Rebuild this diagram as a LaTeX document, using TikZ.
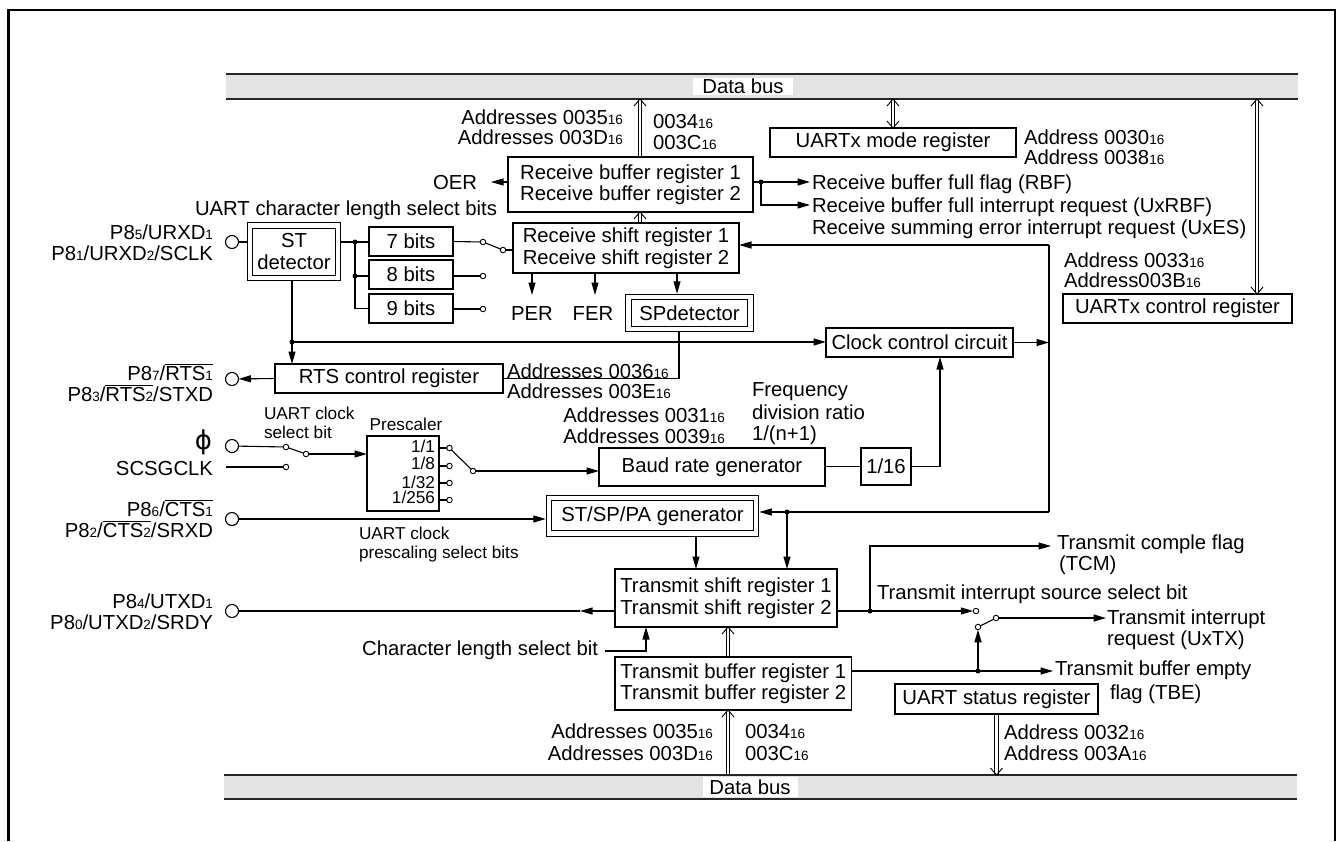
\documentclass[tikz,border=0pt]{standalone}
\usepackage{fontspec}
\setmainfont{Liberation Sans}
\newfontfamily\djv{DejaVu Sans}
\usetikzlibrary{arrows.meta,calc}
\newcommand\mfs{\fontsize{20.3}{21.5}\selectfont}
\newcommand\sfs{\fontsize{17.2}{19}\selectfont}
\newcommand\sbs[1]{\raisebox{-0.7pt}{\fontsize{13.5}{13.5}\selectfont #1}}
\newcommand\ovl[1]{\ensuremath{\overline{\mbox{#1}}}}
\newcommand\dblline[2]{\draw[thl] ($(#1)+(-1.8,0)$) -- ($(#2)+(-1.8,0)$) ($(#1)+(1.8,0)$) -- ($(#2)+(1.8,0)$);}
\newcommand\vhead[2]{\draw[thl] ($(#1)+(-6,#2)$) -- (#1) -- ($(#1)+(6,#2)$);}
\begin{document}
\begin{tikzpicture}[x=1pt,y=-1pt,
 every node/.style={font=\mfs, inner sep=0pt, outer sep=0pt},
 box/.style={draw, line width=1.1pt, fill=white, align=center},
 dblbox/.style={draw, line width=1pt, double, double distance=4.5pt, outer sep=3.25pt, align=center},
 ln/.style={line width=1.1pt},
 thl/.style={line width=0.9pt},
 arr/.style={ln, -{Triangle[length=12.5pt,width=7pt]}},
 pin/.style={draw, circle, line width=1.1pt, minimum size=13pt, fill=white},
 ct/.style={draw, circle, line width=0.9pt, minimum size=5.5pt, fill=white},
 sm/.style={font=\sfs},
 bus/.style={fill=black!11, draw=none},
 busline/.style={line width=1.6pt, black!85},
]
\useasboundingbox (0,0) rectangle (1339,841);
% frame
\draw[line width=2.2pt] (8.5,841) -- (8.5,10) -- (1335,10) -- (1335,841);

% buses
\node[bus, minimum width=1072, minimum height=25, anchor=north west] (busT) at (226,74) {};
\draw[busline] (busT.north west) -- (busT.north east) (busT.south west) -- (busT.south east);
\node[fill=white, minimum width=100, minimum height=17] (dbT) at (743,86.5) {Data bus};
\node[bus, minimum width=1073, minimum height=24, anchor=north west] (busB) at (224,775) {};
\draw[busline] (busB.north west) -- (busB.north east) (busB.south west) -- (busB.south east);
\node[fill=white, minimum width=95, minimum height=20] (dbB) at (750,787) {Data bus};

% boxes
\node[box, minimum width=245, minimum height=55] (rbuf) at (630.5,184.5) {Receive buffer register 1\\Receive buffer register 2};
\node[box, minimum width=226, minimum height=50] (rshift) at (626,248) {Receive shift register 1\\Receive shift register 2};
\node[box, minimum width=246, minimum height=29] (mode) at (893,142.5) {UARTx mode register};
\node[box, minimum width=229, minimum height=29] (ctrl) at (1177.5,308.5) {UARTx control register};
\node[dblbox, minimum width=88, minimum height=52.5] (stdet) at (294,251.75) {ST\\detector};
\node[box, minimum width=84, minimum height=29] (b7) at (411,241.5) {7 bits};
\node[box, minimum width=84, minimum height=29] (b8) at (411,274.5) {8 bits};
\node[box, minimum width=84, minimum height=29] (b9) at (411,308.5) {9 bits};
\node[dblbox, minimum width=122, minimum height=32] (spdet) at (689.5,313) {SPdetector};
\node[box, minimum width=187, minimum height=29] (clk) at (919.5,342.5) {Clock control circuit};
\node[box, minimum width=228, minimum height=29] (rts) at (389,378.5) {RTS control register};
\node[box, minimum width=72, minimum height=75] (pre) at (403,473.5) {};
\node[box, minimum width=226, minimum height=38] (baud) at (712,467) {Baud rate generator};
\node[box, minimum width=50, minimum height=37] (div) at (886,466.5) {1/16};
\node[dblbox, minimum width=207, minimum height=35.5] (stsp) at (652.5,515.75) {ST/SP/PA generator};
\node[box, minimum width=222, minimum height=58] (tshift) at (726,598) {Transmit shift register 1\\Transmit shift register 2};
\node[box, minimum width=236.5, minimum height=53] (tbuf) at (733.25,683.5) {Transmit buffer register 1\\Transmit buffer register 2};
\node[box, minimum width=203, minimum height=30] (stat) at (996.5,699) {UART status register};

% pins
\node[pin] (p1) at (232,242) {};
\node[pin] (p2) at (232,379) {};
\node[pin] (p3) at (232,446) {};
\node[pin] (p4) at (232,519) {};
\node[pin] (p5) at (232,611) {};

% pin labels
\node[anchor=base east] (lp1a) at (213,239) {P8\sbs{5}/URXD\sbs{1}};
\node[anchor=base east] (lp1b) at (213,260) {P8\sbs{1}/URXD\sbs{2}/SCLK};
\node[anchor=base east] (lp2a) at (213,380) {P8\sbs{7}/\ovl{RTS\sbs{1}}};
\node[anchor=base east] (lp2b) at (213,401) {P8\sbs{3}/\ovl{RTS\sbs{2}}/STXD};
\node (lp3a) at (203.5,442) {\djv\fontsize{26}{26}\selectfont ϕ};
\node[anchor=base east] (lp3b) at (213,475) {SCSGCLK};
\node[anchor=base east] (lp4a) at (213,516) {P8\sbs{6}/\ovl{CTS\sbs{1}}};
\node[anchor=base east] (lp4b) at (213,537) {P8\sbs{2}/\ovl{CTS\sbs{2}}/SRXD};
\node[anchor=base east] (lp5a) at (213,608) {P8\sbs{4}/UTXD\sbs{1}};
\node[anchor=base east] (lp5b) at (213,629) {P8\sbs{0}/UTXD\sbs{2}/SRDY};

% other labels
\node[anchor=base east] (la1) at (623,124) {Addresses 0035\sbs{16}};
\node[anchor=base east] (la2) at (623,144) {Addresses 003D\sbs{16}};
\node[anchor=base west] (la3) at (653,128) {0034\sbs{16}};
\node[anchor=base west] (la4) at (653,149) {003C\sbs{16}};
\node[anchor=base west] (la5) at (1024,144) {Address 0030\sbs{16}};
\node[anchor=base west] (la6) at (1024,164) {Address 0038\sbs{16}};
\node[anchor=base west] (la7) at (1064,267) {Address 0033\sbs{16}};
\node[anchor=base west] (la8) at (1064,287) {Address003B\sbs{16}};
\node[anchor=base west] (lrbf) at (812,189) {Receive buffer full flag (RBF)};
\node[anchor=base west] (luxrbf) at (812,212) {Receive buffer full interrupt request (UxRBF)};
\node[anchor=base west] (luxes) at (812,234) {Receive summing error interrupt request (UxES)};
\node[anchor=base east] (loer) at (477,189) {OER};
\node[anchor=base west] (lucl) at (195,215) {UART character length select bits};
\node[anchor=base] (lper) at (532,320) {PER};
\node[anchor=base] (lfer) at (593,320) {FER};
\node[anchor=base west] (la9) at (507,378) {Addresses 0036\sbs{16}};
\node[anchor=base west] (la10) at (507,398) {Addresses 003E\sbs{16}};
\node[anchor=base east] (la11) at (725,422) {Addresses 0031\sbs{16}};
\node[anchor=base east] (la12) at (725,443) {Addresses 0039\sbs{16}};
\node[anchor=base west] (lfr1) at (752,396) {Frequency};
\node[anchor=base west] (lfr2) at (752,419) {division ratio};
\node[anchor=base west] (lfr3) at (752,440) {1/(n+1)};
\node[sm, anchor=base west] (lcs1) at (264,419) {UART clock};
\node[sm, anchor=base west] (lcs2) at (264,438) {select bit};
\node[sm, anchor=base] (lpre) at (406,430) {Prescaler};
\node[sm, anchor=base east] (lr1) at (435,452) {1/1};
\node[sm, anchor=base east] (lr2) at (435,469) {1/8};
\node[sm, anchor=base east] (lr3) at (435,488) {1/32};
\node[sm, anchor=base east] (lr4) at (435,503) {1/256};
\node[sm, anchor=base west] (lps1) at (359,539) {UART clock};
\node[sm, anchor=base west] (lps2) at (359,558) {prescaling select bits};
\node[anchor=base east] (lcls) at (598,655) {Character length select bit};
\node[anchor=base west] (ltcm1) at (1057,549) {Transmit comple flag};
\node[anchor=base west] (ltcm2) at (1059,570) {(TCM)};
\node[anchor=base west] (ltis) at (877,599) {Transmit interrupt source select bit};
\node[anchor=base west] (ltx1) at (1107,624) {Transmit interrupt};
\node[anchor=base west] (ltx2) at (1107,645) {request (UxTX)};
\node[anchor=base west] (ltbe1) at (1055,675) {Transmit buffer empty};
\node[anchor=base west] (ltbe2) at (1110,699) {flag (TBE)};
\node[anchor=base west] (la13) at (1004,739) {Address 0032\sbs{16}};
\node[anchor=base west] (la14) at (1004,760) {Address 003A\sbs{16}};
\node[anchor=base east] (la15) at (713,738) {Addresses 0035\sbs{16}};
\node[anchor=base east] (la16) at (713,760) {Addresses 003D\sbs{16}};
\node[anchor=base west] (la17) at (745,738) {0034\sbs{16}};
\node[anchor=base west] (la18) at (745,760) {003C\sbs{16}};

% helper coordinates
\coordinate (x640) at (640,0);
\coordinate (x1257) at (1257,0);
\coordinate (x728) at (728,0);
\coordinate (x677) at (677,0);
\coordinate (x679) at (679,0);
\coordinate (x292) at (292,0);
\coordinate (x696) at (696,0);
\coordinate (x646) at (646,0);
\coordinate (x940) at (940,0);

% double arrows (bus connections)
\coordinate (d1s) at (rbuf.north -| x640); \coordinate (d1e) at (busT.south -| x640);
\dblline{d1s}{d1e} \vhead{d1e}{7}
\coordinate (d2s) at (mode.north); \coordinate (d2e) at (busT.south -| mode.north);
\dblline{d2s}{d2e} \vhead{d2e}{7} \vhead{d2s}{-7}
\coordinate (d3s) at (ctrl.north -| x1257); \coordinate (d3e) at (busT.south -| x1257);
\dblline{d3s}{d3e} \vhead{d3e}{7} \vhead{d3s}{-7}
\coordinate (d4s) at (rshift.north -| x640); \coordinate (d4e) at (rbuf.south -| x640);
\dblline{d4s}{d4e} \vhead{d4e}{7}
\coordinate (d5s) at (tbuf.north -| x728); \coordinate (d5e) at (tshift.south -| x728);
\dblline{d5s}{d5e} \vhead{d5e}{7}
\coordinate (d6s) at (busB.north -| x728); \coordinate (d6e) at (tbuf.south -| x728);
\dblline{d6s}{d6e} \vhead{d6e}{7}
\coordinate (d7s) at (stat.south); \coordinate (d7e) at (busB.north -| stat.south);
\dblline{d7s}{d7e} \vhead{d7e}{-7}

% receive side
\draw[ln] (p1) -- (p1 -| stdet.west);
\coordinate (j1) at (355,242);
\coordinate (j2) at (355,276);
\draw[ln] (stdet.east |- j1) -- (j1) -- (j1 -| b7.west);
\draw[ln] (j1) -- (j2) |- (b9.west);
\draw[ln] (j2) -- (j2 -| b8.west);
\fill (j1) circle (2.5pt) (j2) circle (2.5pt);
\node[ct] (c7) at (483,242) {};
\node[ct] (c8) at (483,276) {};
\node[ct] (c9) at (483,309) {};
\node[ct] (pv1) at (503,250) {};
\draw[ln] (b7.east) -- (c7);
\draw[ln] (b8.east |- c8) -- (c8);
\draw[ln] (b9.east |- c9) -- (c9);
\draw[ln] (c7) -- (pv1);
\draw[ln] (pv1) -- (pv1 -| rshift.west);

\coordinate (j3) at (761,182);
\coordinate (rbfT) at (810,182);
\coordinate (uxrbfT) at (810,205);
\draw[ln] (j3 -| rbuf.east) -- (j3);
\draw[arr] (j3) -- (rbfT);
\draw[arr] (j3) |- (uxrbfT);
\fill (j3) circle (2.5pt);
\coordinate (oerT) at (491,182);
\draw[arr] (oerT -| rbuf.west) -- (oerT);

\coordinate (perT) at (532,295);
\coordinate (ferT) at (595,295);
\draw[arr] (perT |- rshift.south) -- (perT);
\draw[arr] (ferT |- rshift.south) -- (ferT);
\draw[arr] (rshift.south -| x677) -- (spdet.north -| x677);
\draw[ln] (spdet.south -| x679) |- (rts.east);

\coordinate (j4) at (292,342);
\draw[arr] (stdet.south -| x292) -- (rts.north -| x292);
\draw[arr] (j4) -- (j4 -| clk.west);
\fill (j4) circle (2.5pt);
\draw[arr] (rts.west) -- (p2);

% feedback from clock control
\coordinate (fb1) at (1049,245);
\coordinate (fb2) at (1049,512);
\draw[arr] (clk.east) -- (clk.east -| fb1);
\draw[ln] (fb1) -- (fb2);
\draw[arr] (fb1) -- (fb1 -| rshift.east);
\draw[arr] (fb2) -- (fb2 -| stsp.east);
\coordinate (j5) at (787,512);
\draw[arr] (j5) -- (j5 |- tshift.north);
\fill (j5) circle (2.5pt);
\draw[arr] (stsp.south -| x696) -- (tshift.north -| x696);

% baud / divider
\draw[ln] (baud.east |- div.west) -- (div.west);
\draw[arr] (div.east) -| (x940 |- clk.south);

% prescaler switch
\node[ct] (q1) at (449.5,448) {};
\node[ct] (q2) at (449.5,466) {};
\node[ct] (q3) at (449.5,483) {};
\node[ct] (q4) at (449.5,500) {};
\node[ct] (qp) at (473,471) {};
\draw[ln] (pre.east |- q1) -- (q1);
\draw[ln] (pre.east |- q2) -- (q2);
\draw[ln] (pre.east |- q3) -- (q3);
\draw[ln] (pre.east |- q4) -- (q4);
\draw[ln] (q1) -- (qp);
\draw[arr] (qp) -- (qp -| baud.west);

% clock select switch
\node[ct] (s1) at (286,447) {};
\node[ct] (s2) at (286,467) {};
\node[ct] (sp) at (306,454) {};
\coordinate (sclkS) at (226,467);
\draw[ln] (p3) -- (s1);
\draw[ln] (sclkS) -- (s2);
\draw[ln] (s1) -- (sp);
\draw[arr] (sp) -- (sp -| pre.west);

% CTS
\draw[arr] (p4) -- (p4 -| stsp.west);

% transmit side
\coordinate (tmid) at (580,611);
\draw[arr] (tshift.west |- p5) -- (tmid);
\draw[ln] (tmid) -- (p5);
\coordinate (clsS) at (605,651);
\draw[arr] (clsS) -| (x646 |- tshift.south);

\coordinate (j6) at (870,611);
\coordinate (tcmT) at (1051,546);
\draw[ln] (tshift.east |- j6) -- (j6);
\draw[arr] (j6) |- (tcmT);
\node[ct] (k1) at (976,611) {};
\node[ct] (kp) at (978,627) {};
\node[ct] (k2) at (996,618) {};
\draw[arr] (j6) -- (k1);
\draw[ln] (kp) -- (k2);
\coordinate (txT) at (1106,618);
\draw[arr] (k2) -- (txT);
\coordinate (j7) at (978,671);
\coordinate (tbeT) at (1053,671);
\draw[ln] (tbuf.east |- j7) -- (j7);
\draw[arr] (j7) -- (tbeT);
\draw[arr] (j7) -- (kp);
\fill (j6) circle (2.5pt) (j7) circle (2.5pt);
\end{tikzpicture}
\end{document}
